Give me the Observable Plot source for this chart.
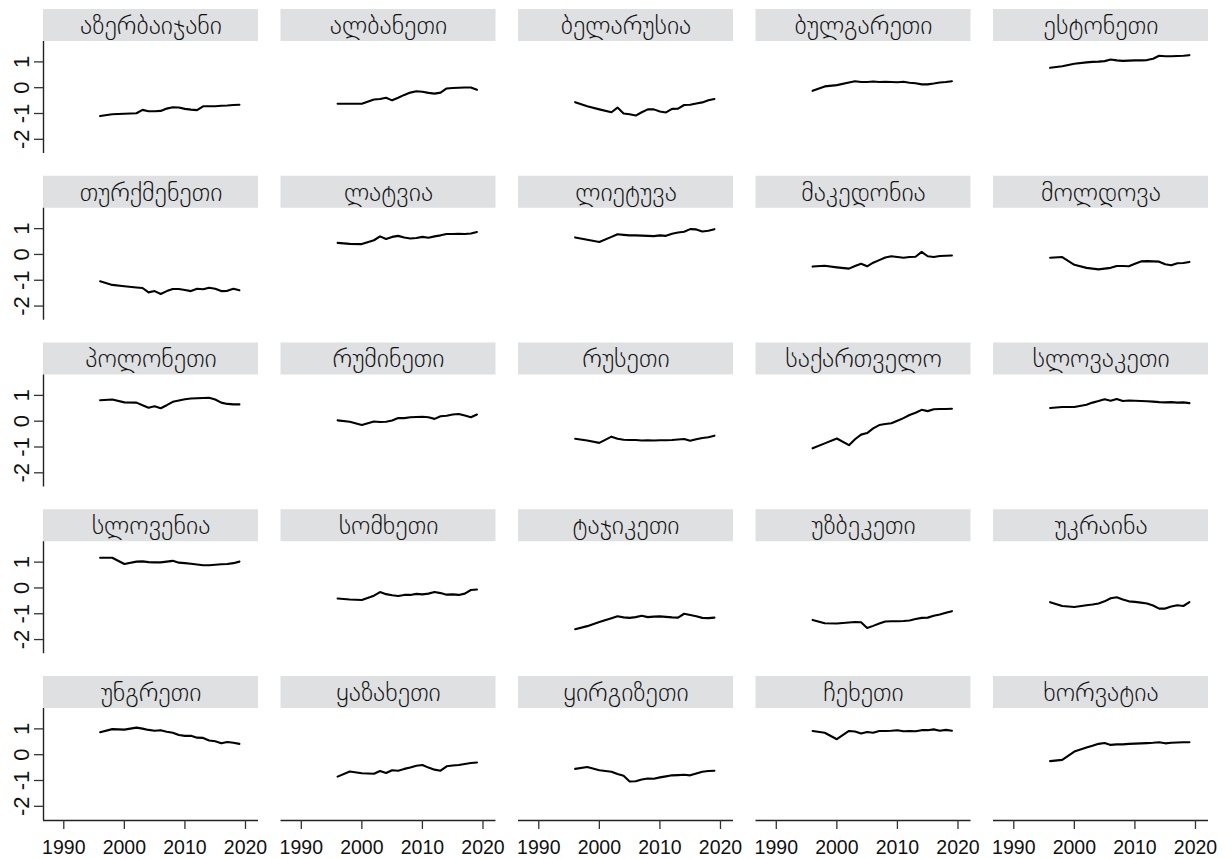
<!DOCTYPE html>
<html>
<head>
<meta charset="utf-8">
<script src="https://cdn.jsdelivr.net/npm/d3@7"></script>
<script src="https://cdn.jsdelivr.net/npm/@observablehq/plot@0.6"></script>
<style>
  html, body { margin: 0; padding: 0; background: #fff; }
</style>
</head>
<body>
<div id="chart"></div>
<script>
const years = [1996, 1998, 2000, 2002, 2003, 2004, 2005, 2006, 2007, 2008, 2009, 2010, 2011, 2012, 2013, 2014, 2015, 2016, 2017, 2018, 2019];

const countries = [
  "აზერბაიჯანი", "ალბანეთი", "ბელარუსია", "ბულგარეთი", "ესტონეთი",
  "თურქმენეთი", "ლატვია", "ლიეტუვა", "მაკედონია", "მოლდოვა",
  "პოლონეთი", "რუმინეთი", "რუსეთი", "საქართველო", "სლოვაკეთი",
  "სლოვენია", "სომხეთი", "ტაჯიკეთი", "უზბეკეთი", "უკრაინა",
  "უნგრეთი", "ყაზახეთი", "ყირგიზეთი", "ჩეხეთი", "ხორვატია"
];

const azerbaijan = [-1.10, -1.03, -1.01, -0.99, -0.86, -0.91, -0.91, -0.90, -0.81, -0.76, -0.77, -0.82, -0.85, -0.87, -0.72, -0.72, -0.72, -0.70, -0.69, -0.67, -0.66];
const albania    = [-0.62, -0.62, -0.62, -0.46, -0.44, -0.39, -0.49, -0.39, -0.28, -0.19, -0.14, -0.16, -0.20, -0.23, -0.19, -0.03, -0.01, 0.00, 0.01, 0.01, -0.08];
const belarus    = [-0.56, -0.72, -0.84, -0.95, -0.77, -1.00, -1.03, -1.08, -0.95, -0.84, -0.84, -0.92, -0.96, -0.82, -0.81, -0.67, -0.66, -0.61, -0.57, -0.49, -0.44];
const bulgaria   = [-0.12, 0.05, 0.10, 0.20, 0.25, 0.22, 0.22, 0.24, 0.22, 0.23, 0.22, 0.21, 0.23, 0.19, 0.17, 0.13, 0.13, 0.16, 0.20, 0.22, 0.25];
const estonia    = [0.77, 0.83, 0.93, 0.98, 1.00, 1.01, 1.03, 1.09, 1.06, 1.04, 1.05, 1.06, 1.06, 1.07, 1.12, 1.24, 1.22, 1.22, 1.23, 1.24, 1.26];
const turkmenistan = [-1.04, -1.18, -1.23, -1.28, -1.30, -1.47, -1.42, -1.53, -1.42, -1.34, -1.34, -1.38, -1.42, -1.33, -1.35, -1.29, -1.33, -1.42, -1.41, -1.33, -1.39];
const latvia     = [0.45, 0.41, 0.40, 0.55, 0.70, 0.60, 0.68, 0.72, 0.66, 0.62, 0.64, 0.68, 0.65, 0.70, 0.74, 0.79, 0.79, 0.80, 0.79, 0.81, 0.87];
const lithuania  = [0.66, 0.57, 0.48, 0.68, 0.78, 0.76, 0.74, 0.74, 0.73, 0.72, 0.71, 0.74, 0.72, 0.80, 0.85, 0.88, 0.98, 0.97, 0.89, 0.92, 0.98];
const macedonia  = [-0.47, -0.44, -0.50, -0.55, -0.45, -0.36, -0.46, -0.32, -0.22, -0.12, -0.07, -0.10, -0.13, -0.10, -0.09, 0.10, -0.07, -0.10, -0.06, -0.05, -0.04];
const moldova    = [-0.13, -0.10, -0.40, -0.52, -0.55, -0.58, -0.55, -0.52, -0.45, -0.45, -0.46, -0.36, -0.27, -0.26, -0.27, -0.28, -0.38, -0.42, -0.34, -0.33, -0.29];
const poland     = [0.81, 0.84, 0.73, 0.72, 0.62, 0.52, 0.58, 0.50, 0.62, 0.75, 0.80, 0.85, 0.88, 0.89, 0.90, 0.91, 0.84, 0.72, 0.67, 0.65, 0.65];
const romania    = [0.03, -0.02, -0.15, -0.01, -0.03, -0.02, 0.03, 0.12, 0.12, 0.15, 0.16, 0.17, 0.15, 0.09, 0.19, 0.21, 0.26, 0.28, 0.22, 0.15, 0.26];
const russia     = [-0.68, -0.75, -0.84, -0.60, -0.68, -0.72, -0.73, -0.73, -0.75, -0.74, -0.75, -0.74, -0.74, -0.73, -0.71, -0.69, -0.76, -0.70, -0.65, -0.62, -0.56];
const georgia    = [-1.05, -0.86, -0.67, -0.93, -0.70, -0.52, -0.46, -0.28, -0.15, -0.11, -0.08, 0.02, 0.12, 0.24, 0.33, 0.44, 0.39, 0.46, 0.47, 0.47, 0.48];
const slovakia   = [0.51, 0.55, 0.55, 0.64, 0.72, 0.78, 0.85, 0.79, 0.86, 0.78, 0.80, 0.79, 0.78, 0.77, 0.76, 0.74, 0.73, 0.74, 0.72, 0.73, 0.70];
const slovenia   = [1.17, 1.17, 0.93, 1.02, 1.03, 1.00, 0.99, 0.99, 1.02, 1.05, 0.98, 0.96, 0.94, 0.91, 0.88, 0.88, 0.90, 0.92, 0.93, 0.96, 1.02];
const armenia    = [-0.41, -0.45, -0.47, -0.30, -0.16, -0.24, -0.28, -0.31, -0.27, -0.27, -0.23, -0.25, -0.22, -0.16, -0.20, -0.26, -0.25, -0.27, -0.22, -0.08, -0.06];
const tajikistan = [-1.60, -1.48, -1.32, -1.17, -1.10, -1.14, -1.16, -1.13, -1.08, -1.13, -1.11, -1.10, -1.12, -1.14, -1.15, -1.00, -1.05, -1.10, -1.16, -1.17, -1.15];
const uzbekistan = [-1.24, -1.37, -1.38, -1.34, -1.32, -1.33, -1.55, -1.47, -1.38, -1.30, -1.29, -1.29, -1.28, -1.26, -1.20, -1.16, -1.15, -1.08, -1.03, -0.96, -0.90];
const ukraine    = [-0.55, -0.70, -0.74, -0.67, -0.64, -0.60, -0.52, -0.40, -0.36, -0.45, -0.52, -0.54, -0.57, -0.60, -0.68, -0.80, -0.80, -0.72, -0.67, -0.70, -0.55];
const hungary    = [0.87, 0.99, 0.97, 1.05, 1.01, 0.96, 0.93, 0.95, 0.89, 0.85, 0.76, 0.73, 0.73, 0.66, 0.65, 0.55, 0.52, 0.44, 0.49, 0.46, 0.42];
const kazakhstan = [-0.85, -0.65, -0.72, -0.74, -0.63, -0.71, -0.60, -0.62, -0.55, -0.50, -0.43, -0.40, -0.50, -0.58, -0.62, -0.45, -0.42, -0.40, -0.36, -0.32, -0.30];
const kyrgyzstan = [-0.55, -0.48, -0.60, -0.66, -0.75, -0.82, -1.04, -1.03, -0.96, -0.92, -0.93, -0.88, -0.84, -0.80, -0.79, -0.78, -0.80, -0.73, -0.66, -0.63, -0.62];
const czechia    = [0.92, 0.85, 0.60, 0.92, 0.90, 0.82, 0.88, 0.85, 0.92, 0.92, 0.93, 0.95, 0.91, 0.92, 0.91, 0.95, 0.95, 0.98, 0.93, 0.96, 0.93];
const croatia    = [-0.25, -0.20, 0.12, 0.28, 0.35, 0.42, 0.45, 0.38, 0.40, 0.40, 0.42, 0.43, 0.44, 0.45, 0.46, 0.48, 0.44, 0.46, 0.47, 0.48, 0.48];

const yTicks = [-2, -1, 0, 1];
const yTickLabels = ["-2", "-1", "0", "1"];
const xTicks = [1990, 2000, 2010, 2020];
const xTickLabels = ["1990", "2000", "2010", "2020"];

const series = [
  azerbaijan, albania, belarus, bulgaria, estonia,
  turkmenistan, latvia, lithuania, macedonia, moldova,
  poland, romania, russia, georgia, slovakia,
  slovenia, armenia, tajikistan, uzbekistan, ukraine,
  hungary, kazakhstan, kyrgyzstan, czechia, croatia
];

const nCols = 5;
const cells = countries.map((c, i) => ({country: c, col: i % nCols, row: Math.floor(i / nCols)}));
const rows = [];
cells.forEach((cell, i) => {
  series[i].forEach((v, j) => rows.push({...cell, year: years[j], value: v}));
});
const yLabelData = yTicks.map((v, i) => ({value: v, label: yTickLabels[i]}));

const xDom = [1986.65, 2022.15];
const yDom = [-2.55, 1.79];
const stripH = 1.24;
const tickLen = 9;

const chart = Plot.plot({
  width: 1232,
  height: 859,
  marginLeft: 43,
  marginRight: 24,
  marginTop: 41,
  marginBottom: 39,
  style: {background: "#fff", fontFamily: "'Liberation Sans', Arial, Helvetica, sans-serif", color: "#000"},
  fx: {domain: [0, 1, 2, 3, 4], paddingInner: 0.0947, paddingOuter: 0, round: false, axis: null},
  fy: {domain: [0, 1, 2, 3, 4], paddingInner: 0.3283, paddingOuter: 0, round: false, axis: null},
  x: {domain: xDom},
  y: {domain: yDom},
  marks: [
    Plot.rect(cells, {
      fx: "col", fy: "row",
      x1: xDom[0], x2: xDom[1], y1: yDom[1], y2: yDom[1] + stripH,
      fill: "#dee0e1"
    }),
    Plot.text(cells, {
      fx: "col", fy: "row",
      x: (xDom[0] + xDom[1]) / 2, y: yDom[1] + stripH / 2,
      text: "country", fontSize: 26, fontWeight: 300, fontFamily: "'DejaVu Sans', sans-serif", fill: "#111"
    }),
    Plot.ruleX([xDom[0]], {facetAnchor: "left", stroke: "#222", strokeWidth: 1.4}),
    Plot.ruleY([yDom[0]], {facetAnchor: "bottom", stroke: "#222", strokeWidth: 1.4}),
    Plot.axisY({
      ticks: yTicks, tickSize: tickLen, fill: "none",
      facetAnchor: "left", label: null, stroke: "#333", strokeWidth: 1.3
    }),
    Plot.text(yLabelData, {
      x: xDom[0], y: "value", text: "label",
      rotate: -90, textAnchor: "middle", lineAnchor: "bottom",
      dx: -(tickLen + 6), fontSize: 22, fill: "#111",
      facetAnchor: "left"
    }),
    Plot.axisX({
      ticks: xTicks, tickFormat: (d) => xTickLabels[xTicks.indexOf(d)], tickSize: tickLen, tickPadding: 10.5, fontSize: 19.5,
      facetAnchor: "bottom", label: null, stroke: "#333", strokeWidth: 1.3, fill: "#111"
    }),
    Plot.line(rows, {
      fx: "col", fy: "row", x: "year", y: "value", z: "country",
      stroke: "#000", strokeWidth: 2.1, strokeLinejoin: "round", strokeLinecap: "round"
    })
  ]
});

document.getElementById("chart").appendChild(chart);
</script>
</body>
</html>
